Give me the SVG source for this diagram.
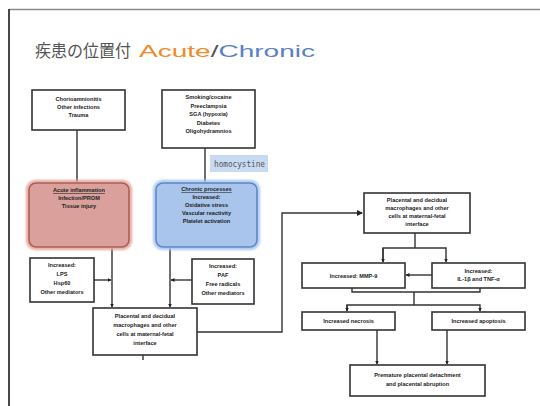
<svg xmlns="http://www.w3.org/2000/svg" width="540" height="406" viewBox="0 0 540 406">
<defs>
<marker id="ah" markerWidth="6" markerHeight="6" refX="5" refY="3" orient="auto" markerUnits="userSpaceOnUse"><path d="M0,0 L6,3 L0,6 z" fill="#222"/></marker>
<marker id="ahs" markerWidth="4" markerHeight="4" refX="3.5" refY="2" orient="auto" markerUnits="userSpaceOnUse"><path d="M0,0 L4,2 L0,4 z" fill="#222"/></marker>
<filter id="glowR" x="-10%" y="-10%" width="120%" height="120%"><feGaussianBlur stdDeviation="1"/></filter>
</defs>
<style>
.box{fill:#fff;stroke:#333;stroke-width:1.6}
.t{font-family:"Liberation Sans",Arial,sans-serif;font-size:5.6px;font-weight:bold;fill:#222;text-anchor:middle}
.ln{stroke:#333;stroke-width:1.4;fill:none}
</style>
<rect x="0" y="0" width="540" height="406" fill="#fff"/>
<line x1="9" y1="9.5" x2="540" y2="9.5" stroke="#8a8a8a" stroke-width="1.6"/>
<line x1="9" y1="9" x2="9" y2="406" stroke="#333" stroke-width="1.8"/>

<g id="title">
<text x="35" y="57" font-family="'Noto Sans CJK JP',sans-serif" font-size="17" fill="#555" textLength="96" lengthAdjust="spacingAndGlyphs">疾患の位置付</text>
<text x="139" y="57" font-family="'Liberation Sans',Arial,sans-serif" font-size="17" fill="#555" textLength="176" lengthAdjust="spacingAndGlyphs"><tspan fill="#f08a28">Acute</tspan>/<tspan fill="#5a80c8">Chronic</tspan></text>
</g>

<g id="connectors">
<line class="ln" x1="77" y1="130" x2="77" y2="182"/>
<line class="ln" x1="205" y1="148" x2="205" y2="182"/>
<line class="ln" x1="112" y1="248" x2="112" y2="307" marker-end="url(#ahs)"/>
<line class="ln" x1="170" y1="248" x2="170" y2="307" marker-end="url(#ahs)"/>
<line class="ln" x1="94" y1="280" x2="111" y2="280" marker-end="url(#ahs)"/>
<line class="ln" x1="192" y1="280" x2="171" y2="280" marker-end="url(#ahs)"/>
<line class="ln" x1="143" y1="355" x2="143" y2="360"/>
<polyline class="ln" points="197,332 282,332 282,213 362,213" stroke-width="1.8" marker-end="url(#ah)"/>
<line class="ln" x1="415" y1="233" x2="415" y2="248"/>
<polyline class="ln" points="383,262 383,248 446,248 446,262" marker-end="url(#ahs)"/>
<line class="ln" x1="383" y1="248" x2="383" y2="262" marker-end="url(#ahs)"/>
<line class="ln" x1="432" y1="275" x2="406" y2="275" marker-end="url(#ahs)"/>
<polyline class="ln" points="352,288 352,292 480,292 480,288"/>
<line class="ln" x1="414" y1="292" x2="414" y2="305"/>
<polyline class="ln" points="347,311 347,305 480,305 480,311" marker-end="url(#ahs)"/>
<line class="ln" x1="347" y1="305" x2="347" y2="311" marker-end="url(#ahs)"/>
<line class="ln" x1="377" y1="330" x2="377" y2="364" marker-end="url(#ahs)"/>
<line class="ln" x1="447" y1="330" x2="447" y2="364" marker-end="url(#ahs)"/>
</g>

<g id="n-chorio">
<rect class="box" x="32" y="90" width="93" height="40"/>
<text class="t" x="78.5" y="101">Chorioamnionitis</text>
<text class="t" x="78.5" y="109">Other infections</text>
<text class="t" x="78.5" y="117">Trauma</text>
</g>

<g id="n-smoking">
<rect class="box" x="162" y="90" width="93" height="58"/>
<text class="t" x="208.5" y="99">Smoking/cocaine</text>
<text class="t" x="208.5" y="107.5">Preeclampsia</text>
<text class="t" x="208.5" y="116">SGA (hypoxia)</text>
<text class="t" x="208.5" y="124.5">Diabetes</text>
<text class="t" x="208.5" y="133">Oligohydramnios</text>
</g>

<g id="n-homocystine">
<rect x="210" y="155" width="58" height="17" fill="#c8dbf2"/>
<text x="214" y="167" font-family="'DejaVu Sans Mono',monospace" font-size="9" fill="#555" textLength="51" lengthAdjust="spacingAndGlyphs">homocystine</text>
</g>

<g id="n-acute">
<rect x="27.5" y="181.5" width="103" height="67" rx="8" fill="none" stroke="#e0a89c" stroke-width="3" filter="url(#glowR)"/>
<rect x="29" y="183" width="100" height="64" rx="7" fill="#d9a09c" stroke="#b05a52" stroke-width="1.6"/>
<text class="t" x="79" y="192" text-decoration="underline">Acute inflammation</text>
<text class="t" x="79" y="200">Infection/PROM</text>
<text class="t" x="79" y="208">Tissue injury</text>
</g>

<g id="n-chronic">
<rect x="154.5" y="181.5" width="104" height="67" rx="8" fill="none" stroke="#a8c6ee" stroke-width="3" filter="url(#glowR)"/>
<rect x="156" y="183" width="101" height="64" rx="7" fill="#a9c5ec" stroke="#5a86c8" stroke-width="1.6"/>
<text class="t" x="206.5" y="191" text-decoration="underline">Chronic processes</text>
<text class="t" x="206.5" y="199">Increased:</text>
<text class="t" x="206.5" y="207">Oxidative stress</text>
<text class="t" x="206.5" y="215">Vascular reactivity</text>
<text class="t" x="206.5" y="223">Platelet activation</text>
</g>

<g id="n-lps">
<rect class="box" x="30" y="258" width="64" height="44"/>
<text class="t" x="62" y="267">Increased:</text>
<text class="t" x="62" y="276">LPS</text>
<text class="t" x="62" y="285">Hsp60</text>
<text class="t" x="62" y="294">Other mediators</text>
</g>

<g id="n-paf">
<rect class="box" x="192" y="259" width="62" height="45"/>
<text class="t" x="223" y="268">Increased:</text>
<text class="t" x="223" y="277">PAF</text>
<text class="t" x="223" y="286">Free radicals</text>
<text class="t" x="223" y="295">Other mediators</text>
</g>

<g id="n-placental-left">
<rect class="box" x="93" y="308" width="104" height="47"/>
<text class="t" x="145" y="318">Placental and decidual</text>
<text class="t" x="145" y="327">macrophages and other</text>
<text class="t" x="145" y="336">cells at maternal-fetal</text>
<text class="t" x="145" y="345">interface</text>
</g>

<g id="n-placental-right">
<rect class="box" x="364" y="193" width="106" height="40"/>
<text class="t" x="417" y="202">Placental and decidual</text>
<text class="t" x="417" y="210">macrophages and other</text>
<text class="t" x="417" y="218">cells at maternal-fetal</text>
<text class="t" x="417" y="226">interface</text>
</g>

<g id="n-mmp9">
<rect class="box" x="302" y="263" width="103" height="25"/>
<text class="t" x="353.5" y="277.5">Increased: MMP-9</text>
</g>

<g id="n-il1">
<rect class="box" x="432" y="263" width="93" height="25"/>
<text class="t" x="478.5" y="273">Increased:</text>
<text class="t" x="478.5" y="281">IL-1β and TNF-α</text>
</g>

<g id="n-necrosis">
<rect class="box" x="302" y="312" width="93" height="18"/>
<text class="t" x="348.5" y="323">Increased necrosis</text>
</g>

<g id="n-apoptosis">
<rect class="box" x="432" y="312" width="93" height="18"/>
<text class="t" x="478.5" y="323">Increased apoptosis</text>
</g>

<g id="n-abruption">
<rect class="box" x="350" y="365" width="135" height="31"/>
<text class="t" x="417.5" y="377">Premature placental detachment</text>
<text class="t" x="417.5" y="386">and placental abruption</text>
</g>
</svg>
